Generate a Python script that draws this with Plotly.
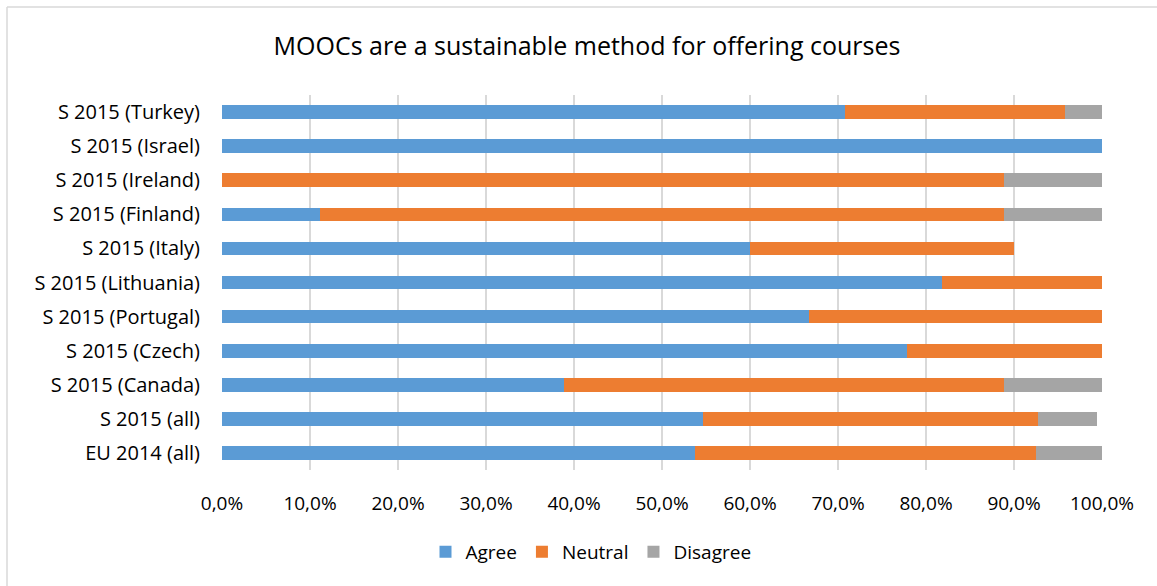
import plotly.graph_objects as go

# Survey groups, listed bottom to top
groups = [
    "EU 2014 (all)", "S 2015 (all)", "S 2015 (Canada)", "S 2015 (Czech)",
    "S 2015 (Portugal)", "S 2015 (Lithuania)", "S 2015 (Italy)",
    "S 2015 (Finland)", "S 2015 (Ireland)", "S 2015 (Israel)", "S 2015 (Turkey)",
]

# Share of answers per group (fractions)
agree = [0.5375, 0.547, 0.389, 0.778, 0.667, 0.818, 0.600, 0.111, 0.000, 1.000, 0.708]
neutral = [0.3875, 0.380, 0.500, 0.222, 0.333, 0.182, 0.300, 0.778, 0.889, 0.000, 0.250]
disagree = [0.075, 0.067, 0.111, 0.000, 0.000, 0.000, 0.000, 0.111, 0.111, 0.000, 0.042]

tick_vals = [i / 10 for i in range(11)]
tick_text = [f"{v * 100:.1f}%".replace(".", ",") for v in tick_vals]

series = [
    ("Agree", agree, "#5B9BD5"),
    ("Neutral", neutral, "#ED7D31"),
    ("Disagree", disagree, "#A5A5A5"),
]

fig = go.Figure()
for name, vals, color in series:
    fig.add_trace(go.Bar(
        y=groups, x=vals, name=name, orientation="h",
        marker=dict(color=color, line=dict(width=0)),
        width=0.4,
    ))

font_family = "Open Sans, Noto Sans, sans-serif"

# plot area in pixels: x 222..1102, y 95..470
W, H = 1157, 586
L, R, T, B = 222, 1102, 95, 470


def px_x(p):
    return (p - L) / (R - L)


def px_y(p):
    return (B - p) / (B - T)


border = dict(color="#D9D9D9", width=1.5)

fig.update_layout(
    barmode="stack",
    width=W, height=H,
    paper_bgcolor="white", plot_bgcolor="white",
    margin=dict(l=L, r=W - R, t=T, b=H - B),
    font=dict(family=font_family, size=19, color="#000000"),
    title=dict(
        text="MOOCs are a sustainable method for offering courses",
        font=dict(size=25, color="#000000", family=font_family),
        x=587 / W, xref="container", xanchor="center",
        y=1 - 46 / H, yref="container", yanchor="middle",
    ),
    xaxis=dict(
        range=[0, 1], tickvals=tick_vals, ticktext=tick_text,
        showgrid=True, gridcolor="#D9D9D9", gridwidth=1.5,
        zeroline=False, showline=False, ticks="",
        ticklabelstandoff=20,
        tickfont=dict(size=19),
    ),
    yaxis=dict(
        categoryorder="array", categoryarray=groups,
        showgrid=False, zeroline=False, showline=False, ticks="",
        ticklabelstandoff=21,
        tickfont=dict(size=20),
    ),
    legend=dict(
        orientation="h",
        x=591 / W, xref="container", xanchor="center",
        y=1 - 552 / H, yref="container", yanchor="middle",
        font=dict(size=19),
        traceorder="normal",
        itemwidth=30,
    ),
    shapes=[
        dict(type="line", xref="paper", yref="paper",
             x0=px_x(7), x1=px_x(7), y0=px_y(7), y1=px_y(H + 5),
             line=border, layer="below"),
        dict(type="line", xref="paper", yref="paper",
             x0=px_x(7), x1=px_x(W + 5), y0=px_y(7), y1=px_y(7),
             line=border, layer="below"),
    ],
)

fig.write_html("out.html")
